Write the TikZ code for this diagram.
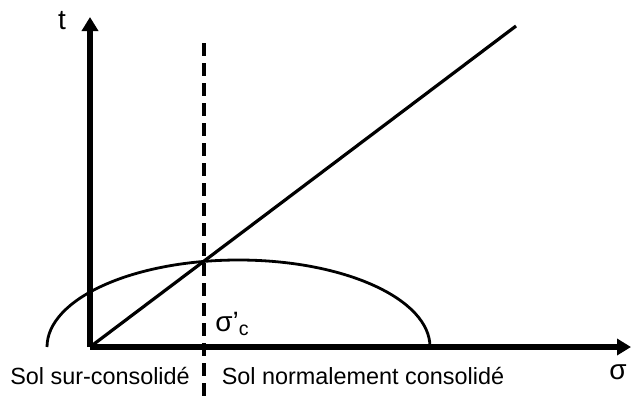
\documentclass[tikz,border=0pt]{standalone}
\usepackage{fontspec}
\setmainfont{Liberation Sans}
\usetikzlibrary{arrows.meta}

\begin{document}
\begin{tikzpicture}[
  x=0.5pt, y=0.5pt,
  axis/.style={line width=2.8pt,-{Triangle[length=7pt,width=8pt]}},
  label/.style={font=\fontsize{11.7}{13}\selectfont,inner sep=0pt},
  symb/.style={font=\fontsize{14}{16}\selectfont,inner sep=0pt},
  limit/.style={line width=2.2pt,dash pattern=on 6.5pt off 3.5pt}
]
  \useasboundingbox (0,0) rectangle (636,403);
  % axes
  \coordinate (O)    at (90, 56);
  \coordinate (ttop) at (90, 386);
  \coordinate (send) at (631, 56);
  \draw[axis] (O) -- (ttop);
  \draw[axis] (O) -- (send);
  \node[symb] (tlab) at (62, 382) {t};
  \node[symb] (slab) at (618, 31) {σ};

  % envelope line
  \coordinate (lend) at (516, 377);
  \draw[line width=1.6pt] (O) -- (lend);

  % stress circle
  \coordinate (C) at (238.5, 56);
  \draw[line width=1.4pt] (C) ++(-191.5,0)
    arc[start angle=180, end angle=0, x radius=191.5, y radius=87];

  % preconsolidation limit
  \coordinate (dtop) at (204, 360);
  \coordinate (dbot) at (204, 2);
  \draw[limit] (dtop) -- (dbot);
  \node[symb,anchor=west] (sc) at (215, 79) {σ'\textsubscript{c}};

  % zones
  \node[label] (sur)  at (100, 27)   {Sol sur-consolidé};
  \node[label] (norm) at (363, 27) {Sol normalement consolidé};
\end{tikzpicture}
\end{document}
